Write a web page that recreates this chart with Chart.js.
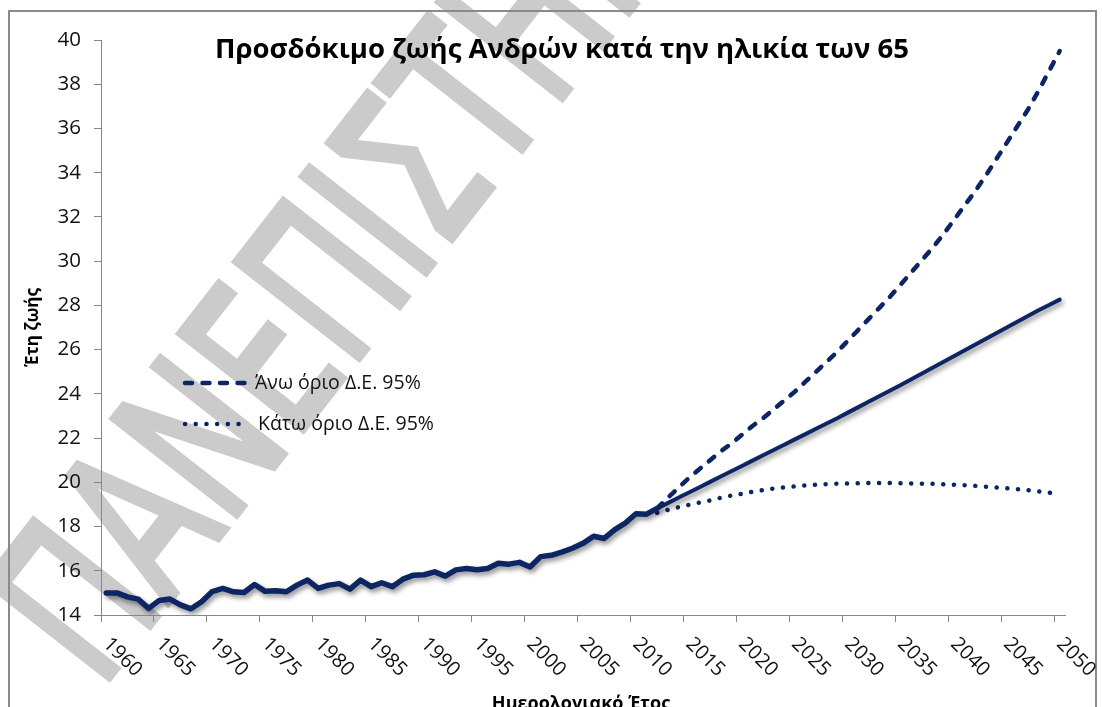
<!DOCTYPE html>
<html>
<head>
<meta charset="utf-8">
<script src="https://cdn.jsdelivr.net/npm/chart.js@4"></script>
<style>
  html, body { margin: 0; padding: 0; background: #fff; overflow: hidden; }
  #wrap { width: 1102px; height: 707px; position: relative; }
</style>
</head>
<body>
<div id="wrap"><canvas id="c"></canvas></div>
<script>
// categories: calendar years 1960..2050
const years = [];
for (let y = 1960; y <= 2050; y++) years.push(String(y));

// observed life expectancy at 65, men, 1960-2012
const observed = [
  15.0, 15.0, 14.82, 14.72, 14.3, 14.66, 14.72, 14.46, 14.28, 14.6,
  15.06, 15.2, 15.05, 15.02, 15.38, 15.07, 15.1, 15.05, 15.35, 15.58,
  15.2, 15.35, 15.42, 15.17, 15.58, 15.28, 15.46, 15.28, 15.62, 15.8,
  15.82, 15.95, 15.76, 16.04, 16.1, 16.05, 16.1, 16.34, 16.3, 16.38,
  16.17, 16.64, 16.7, 16.84, 17.02, 17.24, 17.56, 17.46, 17.86, 18.16,
  18.58, 18.56, 18.82
];

// projections 2012-2050
const central = [
  18.82, 19.06, 19.3, 19.54, 19.78, 20.02, 20.26, 20.5, 20.74, 20.98,
  21.22, 21.46, 21.7, 21.94, 22.18, 22.42, 22.66, 22.9, 23.15, 23.4,
  23.65, 23.9, 24.15, 24.4, 24.66, 24.92, 25.18, 25.44, 25.7, 25.96,
  26.22, 26.48, 26.74, 27.0, 27.26, 27.52, 27.78, 28.02, 28.26
];
const upper = [
  18.82, 19.3, 19.75, 20.2, 20.6, 21.0, 21.4, 21.75, 22.15, 22.55,
  22.9, 23.3, 23.7, 24.1, 24.55, 25.0, 25.45, 25.9, 26.4, 26.9,
  27.4, 27.9, 28.4, 28.95, 29.5, 30.05, 30.6, 31.2, 31.85, 32.5,
  33.15, 33.85, 34.6, 35.35, 36.1, 36.85, 37.7, 38.6, 39.5
];
const lower = [
  18.62, 18.75, 18.87, 18.98, 19.08, 19.18, 19.3, 19.4, 19.48, 19.57,
  19.65, 19.72, 19.77, 19.82, 19.86, 19.89, 19.92, 19.94, 19.95, 19.96,
  19.97, 19.97, 19.97, 19.96, 19.95, 19.94, 19.93, 19.91, 19.89, 19.87,
  19.84, 19.8, 19.77, 19.73, 19.69, 19.64, 19.59, 19.53, 19.46
];

const title = 'Προσδόκιμο ζωής Ανδρών κατά την ηλικία των 65';
const xTitle = 'Ημερολογιακό Έτος';
const yTitle = 'Έτη ζωής';
const upperLabel = 'Άνω όριο Δ.Ε. 95%';
const lowerLabel = 'Κάτω όριο Δ.Ε. 95%';
const watermark = 'ΠΑΝΕΠΙΣΤΗΜΙΟ';

const navy = '#0d2663';
const axisGray = '#868686';
const FONT = "'Open Sans', 'Noto Sans', sans-serif";

const projStart = observed.length - 1;
const pad = (arr, before) => {
  const out = new Array(years.length).fill(null);
  arr.forEach((v, i) => { out[before + i] = v; });
  return out;
};

const extras = {
  id: 'extras',
  beforeDraw(chart) {
    const ctx = chart.ctx;
    ctx.save();
    ctx.fillStyle = '#fff';
    ctx.fillRect(0, 0, chart.width, chart.height);
    // watermark: tall narrow grey letters running up to the top right
    ctx.translate(100, 690);
    ctx.rotate(-52 * Math.PI / 180);
    ctx.scale(0.67, 1);
    ctx.font = `215px 'DejaVu Sans', sans-serif`;
    ctx.fillStyle = '#cbcbcb';
    ctx.strokeStyle = '#cbcbcb';
    ctx.lineWidth = 7;
    ctx.lineJoin = 'miter';
    ctx.textBaseline = 'alphabetic';
    ctx.textAlign = 'left';
    ctx.fillText(watermark, 0, 0);
    ctx.strokeText(watermark, 0, 0);
    ctx.restore();
    // chart frame
    ctx.save();
    ctx.strokeStyle = '#8a8a8a';
    ctx.lineWidth = 2;
    ctx.strokeRect(9, 11, 1087, 720);
    ctx.restore();
  },
  beforeDatasetDraw(chart, args) {
    if (args.index <= 1) {
      const ctx = chart.ctx;
      ctx.save();
      ctx.shadowColor = 'rgba(0,0,0,0.45)';
      ctx.shadowBlur = 5;
      ctx.shadowOffsetX = 2;
      ctx.shadowOffsetY = 3;
    }
  },
  afterDatasetDraw(chart, args) {
    if (args.index <= 1) chart.ctx.restore();
  },
  afterDraw(chart) {
    const ctx = chart.ctx;
    const xs = chart.scales.x;
    ctx.save();
    // rotated year labels
    ctx.fillStyle = '#111';
    ctx.font = `20px ${FONT}`;
    ctx.textAlign = 'left';
    ctx.textBaseline = 'middle';
    years.forEach((yr, i) => {
      if (Number(yr) % 5 !== 0) return;
      const x = xs.getPixelForValue(i);
      ctx.save();
      ctx.translate(x, 641);
      ctx.rotate(Math.PI / 4);
      ctx.fillText(yr, 0, 0);
      ctx.restore();
    });
    // chart title
    ctx.fillStyle = '#000';
    ctx.font = `bold 27.5px ${FONT}`;
    ctx.textAlign = 'center';
    ctx.textBaseline = 'middle';
    ctx.fillText(title, 562, 50);
    // x axis title
    ctx.font = `bold 18px ${FONT}`;
    ctx.fillText(xTitle, 581, 704);
    // legend
    const items = [
      { ds: chart.data.datasets[2], y: 383, text: upperLabel, x0: 185, x1: 250, tx: 255 },
      { ds: chart.data.datasets[3], y: 424, text: lowerLabel, x0: 185, x1: 245, tx: 258 }
    ];
    items.forEach((it) => {
      ctx.save();
      ctx.strokeStyle = it.ds.borderColor;
      ctx.lineWidth = it.ds.borderWidth;
      ctx.lineCap = it.ds.borderCapStyle;
      ctx.setLineDash(it.ds.borderDash);
      ctx.beginPath();
      ctx.moveTo(it.x0, it.y);
      ctx.lineTo(it.x1, it.y);
      ctx.stroke();
      ctx.restore();
      ctx.fillStyle = '#111';
      ctx.font = `19.5px ${FONT}`;
      ctx.textAlign = 'left';
      ctx.textBaseline = 'middle';
      ctx.fillText(it.text, it.tx, it.y);
    });
    ctx.restore();
  }
};

new Chart(document.getElementById('c'), {
  type: 'line',
  data: {
    labels: years,
    datasets: [
      {
        label: 'Παρατηρήσεις',
        data: pad(observed, 0),
        borderColor: navy,
        borderWidth: 5.5,
        pointRadius: 0,
        borderJoinStyle: 'round',
        borderCapStyle: 'round',
        fill: false
      },
      {
        label: 'Πρόβλεψη',
        data: pad(central, projStart),
        borderColor: navy,
        borderWidth: 4,
        pointRadius: 0,
        borderCapStyle: 'round',
        fill: false
      },
      {
        label: upperLabel,
        data: pad(upper, projStart),
        borderColor: navy,
        borderWidth: 4.5,
        borderDash: [7, 10.5],
        borderCapStyle: 'round',
        pointRadius: 0,
        fill: false
      },
      {
        label: lowerLabel,
        data: pad(lower, projStart),
        borderColor: navy,
        borderWidth: 4.5,
        borderDash: [0.1, 10.6],
        borderCapStyle: 'round',
        pointRadius: 0,
        fill: false
      }
    ]
  },
  plugins: [extras],
  options: {
    responsive: true,
    maintainAspectRatio: false,
    animation: false,
    layout: { padding: { left: 0, top: 40, right: 37, bottom: 0 } },
    plugins: {
      legend: { display: false },
      tooltip: { enabled: false },
      title: { display: false }
    },
    scales: {
      x: {
        type: 'category',
        offset: true,
        afterFit: (s) => { s.height = 92; },
        grid: {
          offset: true,
          drawOnChartArea: false,
          drawTicks: true,
          tickLength: 7,
          color: (c) => (c.index !== undefined && c.index % 5 === 0 && c.index < years.length ? axisGray : 'rgba(0,0,0,0)')
        },
        border: { color: axisGray, width: 1 },
        ticks: { display: false, autoSkip: false }
      },
      y: {
        min: 14,
        max: 40,
        afterFit: (s) => { s.width = 101; },
        grid: { drawOnChartArea: false, tickLength: 7, color: axisGray },
        border: { color: axisGray, width: 1 },
        ticks: {
          stepSize: 2,
          padding: 13,
          color: '#111',
          font: { family: FONT, size: 20.5 }
        },
        title: {
          display: true,
          text: yTitle,
          color: '#000',
          font: { family: FONT, size: 17, weight: 'bold' },
          padding: { top: 23, bottom: 0 }
        }
      }
    }
  }
});
</script>
</body>
</html>
